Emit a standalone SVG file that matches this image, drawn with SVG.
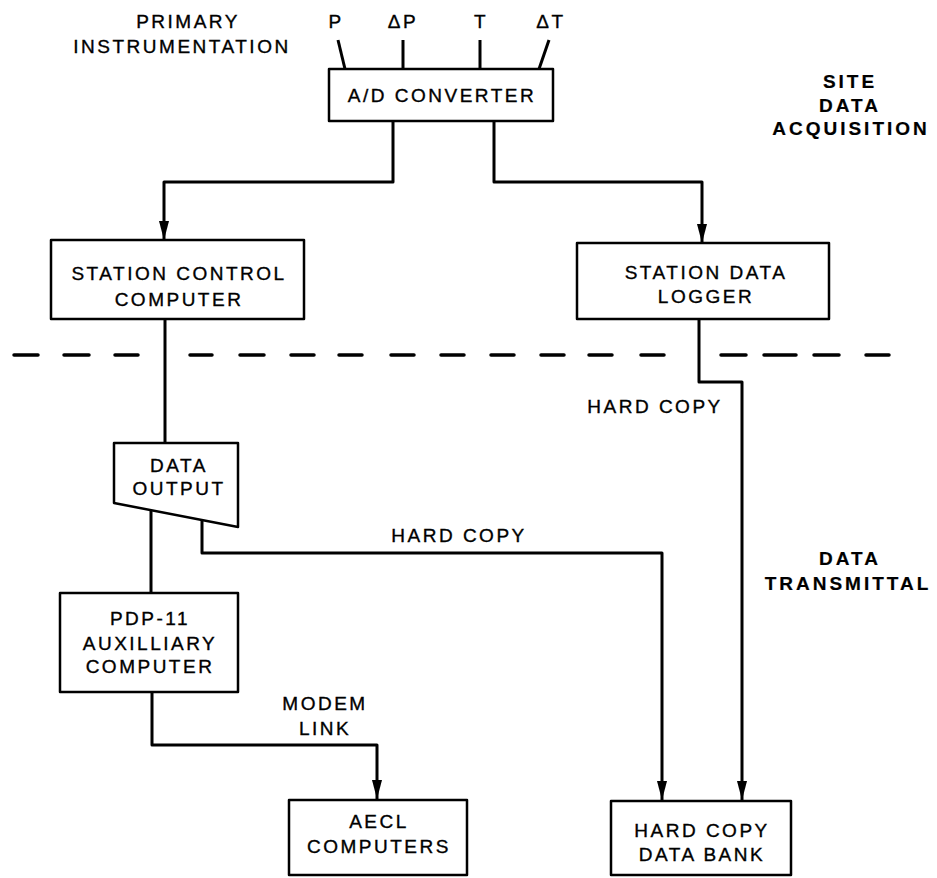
<svg xmlns="http://www.w3.org/2000/svg" width="937" height="878" viewBox="0 0 937 878">
<style>
  .box { fill: #fff; stroke: #000; stroke-width: 2.5; stroke-linejoin: round; }
  .t { font-family: "Liberation Sans", Arial, Helvetica, sans-serif; font-size: 19px; letter-spacing: 2.5px; fill: #000; stroke: #000; stroke-width: 0.35; text-anchor: middle; }
  .b { font-weight: bold; letter-spacing: 3px; stroke-width: 0.2; }
  .c { fill: none; stroke: #000; stroke-width: 3; stroke-linejoin: round; }
  .dash { stroke: #000; stroke-width: 3.5; stroke-linecap: round; }
</style>
<defs>
  <marker id="arr" markerUnits="userSpaceOnUse" markerWidth="20" markerHeight="12" refX="19" refY="6" orient="auto" viewBox="0 0 20 12">
    <path d="M0,1 L0,11 L19,6 Z" fill="#000"/>
  </marker>
</defs>
<rect width="937" height="878" fill="#fff"/>

<g id="labels">
  <text class="t" x="188" y="28">PRIMARY</text>
  <text class="t" x="182" y="53">INSTRUMENTATION</text>
  <text class="t" x="336" y="28">P</text>
  <text class="t" x="403" y="28">ΔP</text>
  <text class="t" x="481" y="28">T</text>
  <text class="t" x="551" y="28">ΔT</text>
  <text class="t b" x="850" y="88">SITE</text>
  <text class="t b" x="850" y="112">DATA</text>
  <text class="t b" x="851" y="135">ACQUISITION</text>
  <text class="t b" x="850" y="565">DATA</text>
  <text class="t b" x="848" y="590">TRANSMITTAL</text>
  <text class="t" x="655" y="413">HARD COPY</text>
  <text class="t" x="459" y="542">HARD COPY</text>
  <text class="t" x="325" y="710">MODEM</text>
  <text class="t" x="325" y="735">LINK</text>
</g>

<g id="divider">
  <line class="dash" x1="14" y1="355" x2="38" y2="355"/>
  <line class="dash" x1="64" y1="355" x2="89" y2="355"/>
  <line class="dash" x1="115" y1="355" x2="138" y2="355"/>
  <line class="dash" x1="190" y1="355" x2="212" y2="355"/>
  <line class="dash" x1="240" y1="355" x2="264" y2="355"/>
  <line class="dash" x1="291" y1="355" x2="314" y2="355"/>
  <line class="dash" x1="339" y1="355" x2="362" y2="355"/>
  <line class="dash" x1="391" y1="355" x2="414" y2="355"/>
  <line class="dash" x1="441" y1="355" x2="464" y2="355"/>
  <line class="dash" x1="491" y1="355" x2="514" y2="355"/>
  <line class="dash" x1="541" y1="355" x2="564" y2="355"/>
  <line class="dash" x1="589" y1="355" x2="612" y2="355"/>
  <line class="dash" x1="641" y1="355" x2="664" y2="355"/>
  <line class="dash" x1="721" y1="355" x2="746" y2="355"/>
  <line class="dash" x1="764" y1="355" x2="796" y2="355"/>
  <line class="dash" x1="814" y1="355" x2="839" y2="355"/>
  <line class="dash" x1="866" y1="355" x2="889" y2="355"/>
</g>

<g id="connectors">
  <line class="c" x1="338" y1="40" x2="345" y2="69"/>
  <line class="c" x1="403" y1="40" x2="403" y2="69"/>
  <line class="c" x1="480" y1="40" x2="480" y2="69"/>
  <line class="c" x1="549" y1="40" x2="539" y2="69"/>
  <path class="c" d="M393,121 V182 H164 V240" marker-end="url(#arr)"/>
  <path class="c" d="M494,121 V182 H702 V243" marker-end="url(#arr)"/>
  <path class="c" d="M165,319 V443"/>
  <path class="c" d="M151,510 V593"/>
  <path class="c" d="M202,519 V553 H662 V800" marker-end="url(#arr)"/>
  <path class="c" d="M699,319 V382 H742 V800" marker-end="url(#arr)"/>
  <path class="c" d="M152,692 V745 H377 V799" marker-end="url(#arr)"/>
</g>

<g id="ad-converter">
  <rect class="box" x="329" y="69" width="224" height="52"/>
  <text class="t" x="442" y="102">A/D CONVERTER</text>
</g>

<g id="station-control">
  <rect class="box" x="51" y="240" width="253" height="79"/>
  <text class="t" x="179" y="280">STATION CONTROL</text>
  <text class="t" x="179" y="306">COMPUTER</text>
</g>

<g id="station-logger">
  <rect class="box" x="577" y="243" width="252" height="76"/>
  <text class="t" x="706" y="279">STATION DATA</text>
  <text class="t" x="706" y="303">LOGGER</text>
</g>

<g id="data-output">
  <polygon class="box" points="114,443 238,443 238,527 114,503"/>
  <text class="t" x="179" y="472">DATA</text>
  <text class="t" x="179" y="495">OUTPUT</text>
</g>

<g id="pdp11">
  <rect class="box" x="60" y="593" width="178" height="99"/>
  <text class="t" x="150" y="625">PDP-11</text>
  <text class="t" x="150" y="650">AUXILLIARY</text>
  <text class="t" x="150" y="673">COMPUTER</text>
</g>

<g id="aecl">
  <rect class="box" x="289" y="800" width="178" height="75"/>
  <text class="t" x="379" y="828">AECL</text>
  <text class="t" x="379" y="853">COMPUTERS</text>
</g>

<g id="data-bank">
  <rect class="box" x="611" y="801" width="180" height="74"/>
  <text class="t" x="702" y="837">HARD COPY</text>
  <text class="t" x="702" y="861">DATA BANK</text>
</g>
</svg>
